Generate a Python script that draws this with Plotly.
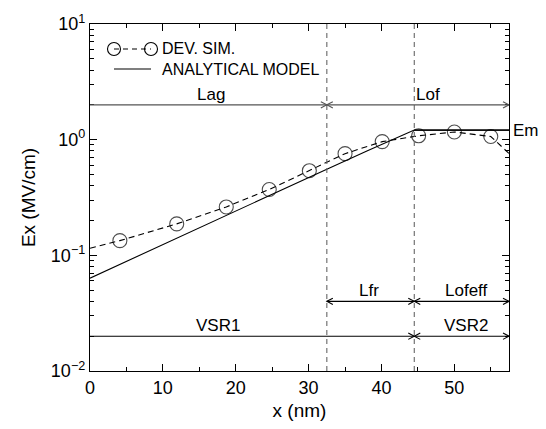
import math
import plotly.graph_objects as go

# ---- data ----
sim_x = [0.0, 4.1, 11.9, 18.7, 24.6, 30.1, 35.0, 40.1, 45.1, 50.0, 55.0, 57.5]
sim_y = [0.115, 0.134, 0.187, 0.262, 0.371, 0.539, 0.757, 0.962, 1.08, 1.165, 1.065, 0.76]
sim_marker = [False, True, True, True, True, True, True, True, True, True, True, False]

model_x = [0.0, 6.0, 12.0, 18.0, 24.0, 30.0, 32.5, 38.0, 44.5, 57.5]
model_y = [0.0635, 0.0950, 0.1426, 0.211, 0.315, 0.470, 0.556, 0.80, 1.21, 1.21]

x_min, x_max = 0.0, 57.5
boundaries = [32.5, 44.5]          # vertical dashed lines
em_value = 1.21

# dimension arrows
dim_labels = ["Lag", "Lof", "Lfr", "Lofeff", "VSR1", "VSR2"]
dim_start = [0.0, 32.5, 32.5, 44.5, 0.0, 44.5]
dim_end = [32.5, 57.5, 44.5, 57.5, 44.5, 57.5]
dim_level = [2.0, 2.0, 0.04, 0.04, 0.02, 0.02]
dim_head_start = [False, True, True, True, False, True]
dim_head_end = [True, True, True, True, True, True]
dim_label_x = [16.6, 46.4, 38.3, 51.6, 17.6, 51.6]
dim_colour = ["#555555", "#555555", "black", "black", "black", "black"]

legend_names = ["DEV. SIM.", "ANALYTICAL MODEL"]

y_tickvals = [0.01, 0.1, 1, 10]
y_ticktext = ["10<sup>\u22122</sup>", "10<sup>\u22121</sup>", "10<sup>0</sup>", "10<sup>1</sup>"]

FONT = "Liberation Sans, Arial, Helvetica, sans-serif"
LW = 1.1

fig = go.Figure()

fig.add_trace(go.Scatter(
    x=sim_x, y=sim_y, mode="lines+markers", name=legend_names[0], showlegend=False,
    line=dict(color="black", width=LW, dash="6px,4px"),
    marker=dict(symbol="circle-open", size=[14 if m else 0 for m in sim_marker],
                color="black", line=dict(width=LW)),
))
fig.add_trace(go.Scatter(
    x=model_x, y=model_y, mode="lines", name=legend_names[1], showlegend=False,
    line=dict(color="black", width=LW),
))

# vertical boundary lines
for b in boundaries:
    fig.add_shape(type="line", xref="x", yref="paper", x0=b, x1=b, y0=0, y1=1,
                  line=dict(color="#666666", width=LW, dash="5px,4px"))

# Em level
fig.add_shape(type="line", xref="x", yref="y", x0=boundaries[1], x1=x_max,
              y0=em_value, y1=em_value, line=dict(color="black", width=LW))
fig.add_annotation(x=x_max, y=math.log10(em_value), xref="x", yref="y",
                   text="Em", showarrow=False, xanchor="left", xshift=2,
                   font=dict(size=17, color="black", family=FONT))


def arrow_head(xa, ya, direction, colour):
    # open chevron, sized in pixels, anchored at a data point
    d = 6 * direction
    fig.add_shape(type="path", xref="x", yref="y", xsizemode="pixel", ysizemode="pixel",
                  xanchor=xa, yanchor=ya, path=f"M{-d},3.2L0,0L{-d},-3.2",
                  line=dict(color=colour, width=LW))


for i, label in enumerate(dim_labels):
    lvl = dim_level[i]
    fig.add_shape(type="line", xref="x", yref="y", x0=dim_start[i], x1=dim_end[i],
                  y0=lvl, y1=lvl, line=dict(color=dim_colour[i], width=LW))
    if dim_head_end[i]:
        arrow_head(dim_end[i], lvl, 1, dim_colour[i])
    if dim_head_start[i]:
        arrow_head(dim_start[i], lvl, -1, dim_colour[i])
    fig.add_annotation(x=dim_label_x[i], y=math.log10(lvl), xref="x", yref="y", text=label,
                       showarrow=False, yanchor="bottom", yshift=-1,
                       font=dict(size=17, color="black", family=FONT))


# hand-drawn legend (top-left, pixel offsets from the plot's top-left corner)
def px_line(x0, x1, y, dash):
    fig.add_shape(type="line", xref="paper", yref="paper", xsizemode="pixel",
                  ysizemode="pixel", xanchor=0, yanchor=1, x0=x0, x1=x1, y0=y, y1=y,
                  line=dict(color="black", width=LW, dash=dash))


def px_circle(cx, cy, r):
    fig.add_shape(type="circle", xref="paper", yref="paper", xsizemode="pixel",
                  ysizemode="pixel", xanchor=0, yanchor=1, x0=cx - r, x1=cx + r,
                  y0=cy - r, y1=cy + r, line=dict(color="black", width=LW),
                  fillcolor="rgba(0,0,0,0)")


row_y = [-25, -45]
px_line(24, 61, row_y[0], "5px,4px")
px_circle(24, row_y[0], 6.5)
px_circle(61, row_y[0], 6.5)
px_line(24, 61, row_y[1], "solid")
fig.add_annotation(xref="paper", yref="paper", x=0, y=1, xshift=70,
                   yshift=(row_y[0] + row_y[1]) / 2, xanchor="left", yanchor="middle",
                   align="left", text="<br>".join(legend_names), showarrow=False,
                   font=dict(size=16, color="black", family=FONT))

fig.update_layout(
    width=546, height=429,
    margin=dict(l=90, r=37, t=19, b=54),
    paper_bgcolor="white", plot_bgcolor="white",
    font=dict(family=FONT, size=17, color="black"),
    showlegend=False,
)
fig.update_xaxes(
    range=[x_min, x_max], dtick=10, tick0=0,
    ticks="inside", ticklen=7, tickwidth=1, tickcolor="black",
    minor=dict(dtick=5, ticks="inside", ticklen=4, tickcolor="black"),
    showline=True, linecolor="black", linewidth=1.3, mirror="ticks",
    showgrid=False, zeroline=False,
    tickfont=dict(size=18), title=dict(text="x (nm)", font=dict(size=19), standoff=6),
)
fig.update_yaxes(
    type="log", range=[-2, 1],
    tickmode="array", tickvals=y_tickvals, ticktext=y_ticktext,
    ticks="inside", ticklen=7, tickwidth=1, tickcolor="black",
    minor=dict(dtick="D1", ticks="inside", ticklen=4, tickcolor="black"),
    showline=True, linecolor="black", linewidth=1.3, mirror="ticks",
    showgrid=False, zeroline=False,
    tickfont=dict(size=18), title=dict(text="Ex (MV/cm)", font=dict(size=19), standoff=10),
)

fig.write_html(
    "out.html",
    config={"displayModeBar": False},
    post_script="document.body.style.margin='0';document.body.style.overflow='hidden';",
)
